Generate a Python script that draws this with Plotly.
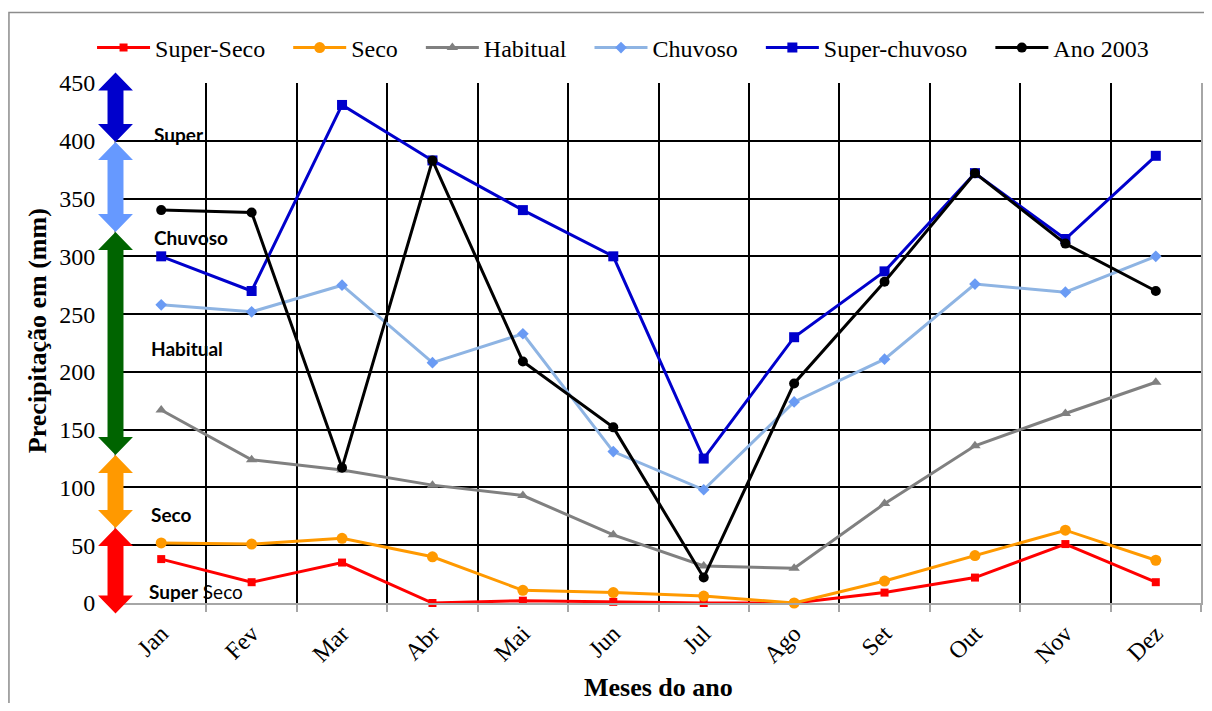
import plotly.graph_objects as go

months = ["Jan", "Fev", "Mar", "Abr", "Mai", "Jun", "Jul", "Ago", "Set", "Out", "Nov", "Dez"]

super_seco = [38, 18, 35, 0, 2, 1, 0, 0, 9, 22, 51, 18]
seco = [52, 51, 56, 40, 11, 9, 6, 0, 19, 41, 63, 37]
habitual = [167, 124, 115, 102, 93, 59, 32, 30, 86, 136, 164, 191]
chuvoso = [258, 252, 275, 208, 233, 131, 98, 174, 211, 276, 269, 300]
super_chuvoso = [300, 270, 431, 383, 340, 300, 125, 230, 287, 372, 315, 387]
ano_2003 = [340, 338, 117, 383, 209, 152, 22, 190, 278, 372, 311, 270]

y_ticks = [0, 50, 100, 150, 200, 250, 300, 350, 400, 450]

# classification bands drawn as double arrows on the left
band_labels = ["Super", "Chuvoso", "Habitual", "Seco", "Super Seco"]
band_low = [399, 321, 128, 65, -9]
band_high = [459, 399, 321, 128, 65]
band_colors = ["#0000CC", "#6699FF", "#006400", "#FF9900", "#FF0000"]
label_values = [405, 316, 220, 77, 10]

OFF = 8  # browser body margin
W, H = 1196, 695
L, R, T, B = 108, 1, 75, 100
PW, PH = W - L - R, H - T - B
YMAX = 450


def pxx(px):
    return (px - OFF - L) / PW


def pyy(py):
    return (H - B - (py - OFF)) / PH


def vy(v):
    return v / YMAX


fig = go.Figure()

PAD = "\u00a0\u00a0\u00a0"
series = [
    ("Super-Seco", super_seco, "#FF0000", "#FF0000", "square", 8),
    ("Seco", seco, "#FF9900", "#FF9900", "circle", 11),
    ("Habitual", habitual, "#808080", "#808080", "triangle-up", 10),
    ("Chuvoso", chuvoso, "#8EB4E3", "#6A9BF4", "diamond", 9),
    ("Super-chuvoso", super_chuvoso, "#0000CC", "#0000CC", "square", 10),
    ("Ano 2003", ano_2003, "#000000", "#000000", "circle", 10),
]
for name, vals, lc, mc, sym, ms in series:
    fig.add_trace(go.Scatter(
        x=months, y=vals, name=name + PAD, mode="lines+markers",
        line=dict(color=lc, width=3),
        marker=dict(color=mc, symbol=sym, size=ms, line=dict(width=0)),
        cliponaxis=False,
    ))

shapes = []
# outer chart border
shapes.append(dict(type="rect", xref="paper", yref="paper",
                   x0=pxx(8.75), x1=pxx(1260), y0=pyy(760), y1=pyy(12.5),
                   line=dict(color="#8C8C8C", width=1.5), layer="below"))

cx = 115.5
shaft = 8 / PW
headw = 17.5 / PW
headl = 18 / PH
x_c = pxx(cx)
for lo, hi, col in zip(band_low, band_high, band_colors):
    y0 = vy(lo)
    y1 = vy(hi)
    path = (
        f"M {x_c},{y1} L {x_c + headw},{y1 - headl} L {x_c + shaft},{y1 - headl} "
        f"L {x_c + shaft},{y0 + headl} L {x_c + headw},{y0 + headl} L {x_c},{y0} "
        f"L {x_c - headw},{y0 + headl} L {x_c - shaft},{y0 + headl} "
        f"L {x_c - shaft},{y1 - headl} L {x_c - headw},{y1 - headl} Z"
    )
    shapes.append(dict(type="path", xref="paper", yref="paper", path=path,
                       fillcolor=col, line=dict(width=0), layer="above"))

annotations = []
lab_x = [152, 152, 149, 149, 147]
for lab, v, lx in zip(band_labels, label_values, lab_x):
    if lab == "Super Seco":
        txt = "<b>Super</b> Seco"
    else:
        txt = f"<b>{lab}</b>"
    annotations.append(dict(text=txt, xref="paper", yref="paper",
                            x=pxx(lx), y=vy(v), xanchor="left", yanchor="middle",
                            showarrow=False,
                            font=dict(family="Lato", size=19, color="#000000")))

annotations.append(dict(text="<b>Precipitação em (mm)</b>", xref="paper", yref="paper",
                        x=pxx(37), y=pyy(331), textangle=-90, showarrow=False,
                        xanchor="center", yanchor="middle",
                        font=dict(family="Liberation Serif", size=26, color="#000000")))
annotations.append(dict(text="<b>Meses do ano</b>", xref="paper", yref="paper",
                        x=pxx(660), y=pyy(687), showarrow=False,
                        xanchor="center", yanchor="middle",
                        font=dict(family="Liberation Serif", size=26, color="#000000")))

fig.update_layout(
    width=W, height=H, autosize=False,
    margin=dict(l=L, r=R, t=T, b=B, pad=0),
    paper_bgcolor="white", plot_bgcolor="white",
    shapes=shapes, annotations=annotations,
    showlegend=True,
    legend=dict(orientation="h", x=pxx(92), y=pyy(48), xanchor="left", yanchor="middle",
                font=dict(family="Liberation Serif", size=24, color="#000000"),
                itemwidth=53, tracegroupgap=0, bgcolor="rgba(0,0,0,0)"),
    xaxis=dict(type="category", tickson="boundaries", range=[-0.5, 11.5],
               showgrid=True, gridcolor="#000000", gridwidth=1.6,
               showline=True, linecolor="#A6A6A6", linewidth=2,
               ticks="outside", ticklen=7, tickwidth=2, tickcolor="#A6A6A6",
               tickangle=-45, ticklabelstandoff=5,
               tickfont=dict(family="Liberation Serif", size=24, color="#000000")),
    yaxis=dict(range=[0, YMAX], tickvals=y_ticks, ticks="",
               showgrid=True, gridcolor="#000000", gridwidth=1.6,
               zeroline=False, showline=True, mirror=True,
               linecolor="#A6A6A6", linewidth=2,
               ticklabelstandoff=14,
               tickfont=dict(family="Liberation Serif", size=24, color="#000000")),
)

fig.write_html("out.html")
